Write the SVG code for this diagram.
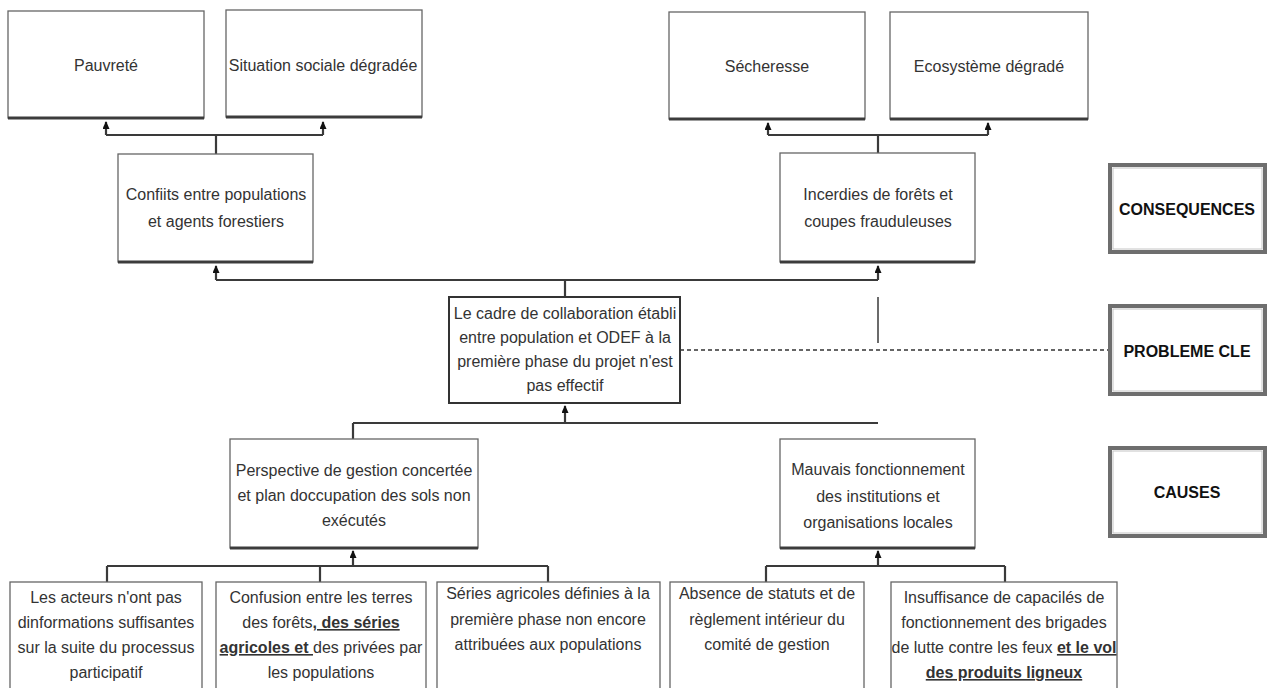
<svg xmlns="http://www.w3.org/2000/svg" width="1268" height="688" viewBox="0 0 1268 688">
<defs>
<style>
.box{fill:#fff;stroke:#666;stroke-width:1.3}
.sh{stroke:#3c3c3c;stroke-width:3}
.t{font-family:"Liberation Sans",Arial,sans-serif;font-size:16px;fill:#333;text-anchor:middle}
.lbl{font-family:"Liberation Sans",Arial,sans-serif;font-size:16px;font-weight:bold;fill:#111;text-anchor:middle}
.c{fill:none;stroke:#3a3a3a;stroke-width:2.2}
.a{fill:none;stroke:#3a3a3a;stroke-width:2.2;marker-end:url(#ar)}
.dot{fill:none;stroke:#333;stroke-width:1.5;stroke-dasharray:4 3}
.b{font-weight:bold;text-decoration:underline}
.frame{fill:#fff;stroke:#6e6e6e;stroke-width:4}
.inner{fill:none;stroke:#c4c4c4;stroke-width:1}
</style>
<marker id="ar" markerWidth="8" markerHeight="7" refX="7" refY="3.5" orient="auto" markerUnits="userSpaceOnUse" viewBox="0 0 8 7"><path d="M0,0 L8,3.5 L0,7 z" fill="#111"/></marker>
</defs>

<g id="connectors">
<path class="c" d="M216,154 V135 M106,135 H323"/>
<path class="a" d="M106,135 V122"/>
<path class="a" d="M323,135 V122"/>
<path class="c" d="M878,153 V135 M768,135 H988"/>
<path class="a" d="M768,135 V123"/>
<path class="a" d="M988,135 V123"/>
<path class="c" d="M216,280 H878 M565,280 V297"/>
<path class="a" d="M216,280 V266"/>
<path class="a" d="M878,280 V266"/>
<path class="c" d="M878,297 V343" style="stroke-width:1.5"/>
<path class="c" d="M353,423 H878 M353,423 V439"/>
<path class="a" d="M565,423 V406"/>
<path class="c" d="M107,566 H548 M107,566 V582 M320,566 V582 M548,566 V582"/>
<path class="a" d="M353,566 V551"/>
<path class="c" d="M766,566 H1005 M766,566 V582 M1005,566 V582"/>
<path class="a" d="M878,566 V551"/>
<path class="dot" d="M680,350 H1108"/>
</g>

<g id="pauvrete">
<rect class="box" x="8" y="11" width="196" height="107"/>
<line class="sh" x1="8" y1="118" x2="204" y2="118"/>
<text class="t" x="106" y="71">Pauvreté</text>
</g>
<g id="situation">
<rect class="box" x="226" y="10" width="196" height="107"/>
<line class="sh" x1="226" y1="117" x2="422" y2="117"/>
<text class="t" x="323" y="71">Situation sociale dégradée</text>
</g>
<g id="secheresse">
<rect class="box" x="669" y="12" width="196" height="107"/>
<line class="sh" x1="669" y1="119" x2="865" y2="119"/>
<text class="t" x="767" y="72">Sécheresse</text>
</g>
<g id="ecosysteme">
<rect class="box" x="890" y="12" width="198" height="107"/>
<line class="sh" x1="890" y1="119" x2="1088" y2="119"/>
<text class="t" x="989" y="72">Ecosystème dégradé</text>
</g>

<g id="conflits">
<rect class="box" x="118" y="154" width="195" height="108"/>
<line class="sh" x1="118" y1="262" x2="313" y2="262"/>
<text class="t" x="216" y="200">Confiits entre populations</text>
<text class="t" x="216" y="227">et agents forestiers</text>
</g>
<g id="incendies">
<rect class="box" x="780" y="153" width="195" height="109"/>
<line class="sh" x1="780" y1="262" x2="975" y2="262"/>
<text class="t" x="878" y="200">Incerdies de forêts et</text>
<text class="t" x="878" y="227">coupes frauduleuses</text>
</g>

<g id="probleme">
<rect class="box" x="449" y="297" width="231" height="106" style="stroke:#333;stroke-width:2"/>
<text class="t" x="565" y="319">Le cadre de collaboration établi</text>
<text class="t" x="565" y="343">entre population et ODEF à la</text>
<text class="t" x="565" y="367">première phase du projet n'est</text>
<text class="t" x="565" y="391">pas effectif</text>
</g>

<g id="perspective">
<rect class="box" x="230" y="439" width="248" height="109"/>
<line class="sh" x1="230" y1="548" x2="478" y2="548"/>
<text class="t" x="354" y="476">Perspective de gestion concertée</text>
<text class="t" x="354" y="501">et plan doccupation des sols non</text>
<text class="t" x="354" y="526">exécutés</text>
</g>
<g id="mauvais">
<rect class="box" x="780" y="439" width="195" height="109"/>
<line class="sh" x1="780" y1="548" x2="975" y2="548"/>
<text class="t" x="878" y="475">Mauvais fonctionnement</text>
<text class="t" x="878" y="502">des institutions et</text>
<text class="t" x="878" y="528">organisations locales</text>
</g>

<g id="acteurs">
<rect class="box" x="10" y="582" width="192" height="120"/>
<text class="t" x="106" y="603">Les acteurs n'ont pas</text>
<text class="t" x="106" y="628">dinformations suffisantes</text>
<text class="t" x="106" y="653">sur la suite du processus</text>
<text class="t" x="106" y="678">participatif</text>
</g>
<g id="confusion">
<rect class="box" x="216" y="582" width="210" height="120"/>
<text class="t" x="321" y="603">Confusion entre les terres</text>
<text class="t" x="321" y="628">des forêts<tspan class="b">, des séries</tspan></text>
<text class="t" x="321" y="653"><tspan class="b">agricoles et </tspan>des privées par</text>
<text class="t" x="321" y="678">les populations</text>
</g>
<g id="series">
<rect class="box" x="437" y="582" width="223" height="120"/>
<text class="t" x="548" y="599">Séries agricoles définies à la</text>
<text class="t" x="548" y="625">première phase non encore</text>
<text class="t" x="548" y="650">attribuées aux populations</text>
</g>
<g id="absence">
<rect class="box" x="670" y="582" width="194" height="120"/>
<text class="t" x="767" y="599">Absence de statuts et de</text>
<text class="t" x="767" y="625">règlement intérieur du</text>
<text class="t" x="767" y="650">comité de gestion</text>
</g>
<g id="insuffisance">
<rect class="box" x="891" y="582" width="226" height="120"/>
<text class="t" x="1004" y="603">Insuffisance de capacilés de</text>
<text class="t" x="1004" y="628">fonctionnement des brigades</text>
<text class="t" x="1004" y="653">de lutte contre les feux <tspan class="b">et le vol</tspan></text>
<text class="t" x="1004" y="678"><tspan class="b">des produits ligneux</tspan></text>
</g>

<g id="consequences">
<rect class="frame" x="1110" y="165" width="155" height="87"/>
<rect class="inner" x="1113" y="168" width="149" height="81"/>
<text class="lbl" x="1187" y="215">CONSEQUENCES</text>
</g>
<g id="probleme-cle">
<rect class="frame" x="1110" y="306" width="155" height="88"/>
<rect class="inner" x="1113" y="309" width="149" height="82"/>
<text class="lbl" x="1187" y="357">PROBLEME CLE</text>
</g>
<g id="causes">
<rect class="frame" x="1110" y="448" width="155" height="88"/>
<rect class="inner" x="1113" y="451" width="149" height="82"/>
<text class="lbl" x="1187" y="498">CAUSES</text>
</g>
</svg>
